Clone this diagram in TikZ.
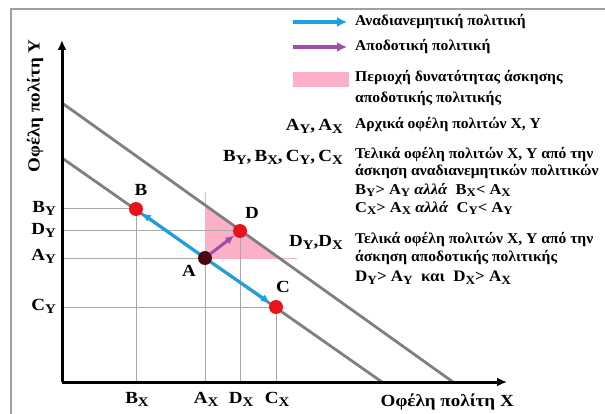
\documentclass[tikz,border=0pt]{standalone}
\usepackage{fontspec}
\setmainfont{Liberation Serif}
\usetikzlibrary{arrows.meta}
\definecolor{bluearr}{HTML}{1BA1E2}
\definecolor{purparr}{HTML}{9B4FA8}
\definecolor{pinkfill}{HTML}{FBB0C8}
\definecolor{redpt}{HTML}{E8141C}
\definecolor{darkpt}{HTML}{4A0712}
\definecolor{budget}{HTML}{7F7F7F}
\definecolor{gridc}{HTML}{A8A8A8}
\definecolor{framec}{HTML}{A0A0A0}
\newcommand\sbs[2]{#1\raisebox{-0.4ex}{\scalebox{0.78}{#2}}}
\newcommand\strx[1]{\scalebox{1.04}[1]{#1}}
\newcommand\strxi[1]{\scalebox{1.1}[1]{#1}}
\newcommand\strxd[1]{\scalebox{1.06}[1]{#1}}
\newcommand\strxb[1]{\scalebox{1.12}[1]{#1}}
\tikzset{
  txt/.style={font=\bfseries\fontsize{15}{17}\selectfont, inner sep=0pt, anchor=west},
  mid/.style={font=\bfseries\fontsize{16}{18}\selectfont, inner sep=0pt, anchor=west},
  big/.style={font=\bfseries\fontsize{17}{19}\selectfont, inner sep=0pt},
  gridl/.style={draw=gridc, line width=1pt},
  budgetl/.style={draw=budget, line width=2.8pt},
  axisl/.style={draw=black, line width=3pt},
  dotred/.style={circle, fill=redpt, minimum size=14pt, inner sep=0pt},
  dotdark/.style={circle, fill=darkpt, minimum size=14pt, inner sep=0pt},
  bluea/.style={draw=bluearr, line width=3pt, -{Latex[length=9pt,width=8pt]}},
  purpa/.style={draw=purparr, line width=3pt, -{Latex[length=9pt,width=8pt]}},
  legarr/.style={line width=3.5pt, -{Latex[length=10pt,width=10pt]}},
}
\begin{document}
\begin{tikzpicture}[x=1pt,y=-1pt]
\useasboundingbox (0,0) rectangle (605,414);
% frame
\draw[framec, line width=2pt] (11,414) -- (11,9) -- (605,9);
% pink area
\fill[pinkfill] (205,258) -- (205,206) -- (280,258) -- cycle;
\draw[pinkfill, line width=1pt] (205,258) -- (205,192);
\draw[pinkfill, line width=1pt] (205,258) -- (297,258);
% grid lines
\coordinate (o) at (62,382);
\draw[gridl] (62,209) -- (136,209) -- (136,382);
\draw[gridl] (62,231) -- (240,231) -- (240,382);
\draw[gridl] (62,258) -- (205,258) -- (205,382);
\draw[gridl] (62,307) -- (276,307) -- (276,382);
% budget lines
\draw[budgetl] (62,158) -- (382,382);
\draw[budgetl] (62,103) -- (453,382);
% axes
\coordinate (ytip) at (62,40);
\coordinate (xtip) at (507,382);
\draw[axisl, -{Latex[length=10pt,width=9pt]}] (o) -- (ytip);
\draw[axisl, -{Latex[length=10pt,width=9pt]}] (o) -- (xtip);
% points
\node[dotred] (B) at (136,209) {};
\node[dotred] (D) at (240,231) {};
\node[dotdark] (A) at (205,258) {};
\node[dotred] (C) at (276,307) {};
\draw[bluea] (A) -- (B);
\draw[bluea] (A) -- (C);
\draw[purpa] (A) -- (D);
% point labels
\node[big] (lB) at (141,190) {\strxb{B}};
\node[big] (lD) at (252,213) {\strxb{D}};
\node[big] (lA) at (189,271) {\strxb{A}};
\node[big] (lC) at (283,287) {\strxb{C}};
% axis tick labels
\node[big, anchor=east] (tBY) at (56,208) {\strxb{\sbs{B}{Y}}};
\node[big, anchor=east] (tDY) at (56,230) {\strxb{\sbs{D}{Y}}};
\node[big, anchor=east] (tAY) at (56,256) {\strxb{\sbs{A}{Y}}};
\node[big, anchor=east] (tCY) at (56,306) {\strxb{\sbs{C}{Y}}};
\node[big] (tBX) at (137,399) {\strxb{\sbs{B}{X}}};
\node[big] (tAX) at (206,399) {\strxb{\sbs{A}{X}}};
\node[big] (tDX) at (241,399) {\strxb{\sbs{D}{X}}};
\node[big] (tCX) at (277,399) {\strxb{\sbs{C}{X}}};
% axis titles
\node[big, anchor=east] (xt) at (514,402) {\strxb{Οφέλη πολίτη X}};
\node[big, rotate=90] (yt) at (35,106) {\strxb{Οφέλη πολίτη Y}};
% legend
\coordinate (l1a) at (293,22); \coordinate (l1b) at (347,22);
\draw[legarr, draw=bluearr] (l1a) -- (l1b);
\node[txt] (L1) at (355,22) {\strx{Αναδιανεμητική πολιτική}};
\coordinate (l2a) at (293,47); \coordinate (l2b) at (347,47);
\draw[legarr, draw=purparr] (l2a) -- (l2b);
\node[txt] (L2) at (355,47) {\strx{Αποδοτική πολιτική}};
\fill[pinkfill] (293,72) rectangle (349,87);
\node[txt] (L3a) at (355,78) {\strx{Περιοχή δυνατότητας άσκησης}};
\node[txt] (L3b) at (355,99) {\strx{αποδοτικής πολιτικής}};
% descriptions
\node[big, anchor=east] (kA) at (343,126) {\strxb{\sbs{A}{Y},\,\sbs{A}{X}}};
\node[txt] (dA) at (355,125) {\strx{Αρχικά οφέλη πολιτών X, Y}};
\node[big, anchor=east] (kB) at (343,157) {\strxb{\sbs{B}{Y},\,\sbs{B}{X},\,\sbs{C}{Y},\,\sbs{C}{X}}};
\node[txt] (dB1) at (355,155) {\strx{Τελικά οφέλη πολιτών X, Y από την}};
\node[txt] (dB2) at (355,172) {\strx{άσκηση αναδιανεμητικών πολιτικών}};
\node[txt] (iB) at (355,190) {\strxi{\sbs{B}{Y}> \sbs{A}{Y} \textit{αλλά}\ \ \sbs{B}{X}< \sbs{A}{X}}};
\node[txt] (iC) at (355,208) {\strxi{\sbs{C}{X}> \sbs{A}{X} \textit{αλλά}\ \ \sbs{C}{Y}< \sbs{A}{Y}}};
\node[big, anchor=east] (kD) at (343,242) {\strxb{\sbs{D}{Y},\sbs{D}{X}}};
\node[txt] (dD1) at (355,240) {\strx{Τελικά οφέλη πολιτών X, Y από την}};
\node[txt] (dD2) at (355,258) {\strx{άσκηση αποδοτικής πολιτικής}};
\node[mid] (iD) at (355,278) {\strxd{\sbs{D}{Y}> \sbs{A}{Y}\ \ και\ \ \sbs{D}{X}> \sbs{A}{X}}};
\end{tikzpicture}
\end{document}
